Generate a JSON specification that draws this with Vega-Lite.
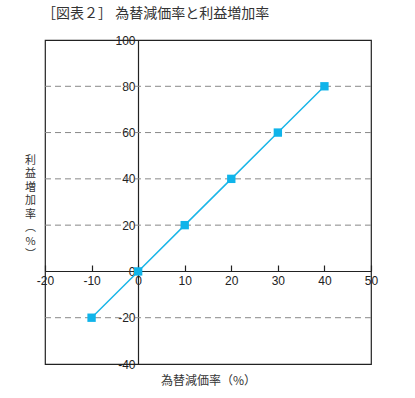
{
  "$schema": "https://vega.github.io/schema/vega-lite/v6.json",
  "width": 326,
  "height": 324,
  "autosize": {"type": "none"},
  "padding": {"left": 45, "top": 40, "right": 44, "bottom": 34},
  "background": "white",
  "config": {
    "view": {"stroke": "#222", "strokeWidth": 1.2},
    "font": "Liberation Sans"
  },
  "title": {
    "text": "［図表２］ 為替減価率と利益増加率",
    "anchor": "start",
    "frame": "group",
    "font": "Noto Sans CJK JP",
    "fontSize": 14,
    "fontWeight": "normal",
    "color": "#333",
    "offset": 13,
    "dx": -3
  },
  "layer": [
    {
      "data": {"values": [{"g": -20}, {"g": 20}, {"g": 40}, {"g": 60}, {"g": 80}]},
      "mark": {"type": "rule", "strokeDash": [6, 4], "color": "#888", "strokeWidth": 1},
      "encoding": {
        "y": {
          "field": "g", "type": "quantitative",
          "scale": {"domain": [-40, 100], "nice": false},
          "axis": {
            "values": [-40, -20, 0, 20, 40, 60, 80, 100],
            "offset": -93,
            "grid": false,
            "domainColor": "#222",
            "domainWidth": 1.2,
            "ticks": false,
            "labelPadding": 3,
            "labelFont": "Liberation Sans",
            "labelFontSize": 12,
            "labelColor": "#222",
            "labelOverlap": false,
            "labelBound": false,
            "labelFlush": false,
            "labelExpr": "'' + datum.value",
            "title": ["利", "益", "増", "加", "率", "︵", "%", "︶"],
            "titleFont": "Noto Sans CJK JP",
            "titleFontSize": 11,
            "titleFontWeight": "normal",
            "titleColor": "#333",
            "titleAngle": 0,
            "titleAlign": "center",
            "titleBaseline": "top",
            "titleLineHeight": 13.5,
            "titleX": -108,
            "titleY": 114
          }
        }
      }
    },
    {
      "data": {"values": [
        {"x": -10, "y": -20},
        {"x": 0, "y": 0},
        {"x": 10, "y": 20},
        {"x": 20, "y": 40},
        {"x": 30, "y": 60},
        {"x": 40, "y": 80}
      ]},
      "mark": {
        "type": "line",
        "color": "#1ab6e8",
        "strokeWidth": 1.5,
        "point": {"shape": "square", "size": 70, "filled": true, "opacity": 1, "color": "#0fb4ea"}
      },
      "encoding": {
        "x": {
          "field": "x", "type": "quantitative",
          "scale": {"domain": [-20, 50], "nice": false},
          "axis": {
            "values": [-20, -10, 0, 10, 20, 30, 40, 50],
            "offset": -93,
            "grid": false,
            "domainColor": "#222",
            "domainWidth": 1.2,
            "tickColor": "#222",
            "tickSize": -6,
            "tickWidth": 1.2,
            "labelPadding": 10,
            "labelFont": "Liberation Sans",
            "labelFontSize": 12,
            "labelColor": "#222",
            "labelOverlap": false,
            "labelBound": false,
            "labelFlush": false,
            "labelExpr": "'' + datum.value",
            "title": "為替減価率（%）",
            "titleFont": "Noto Sans CJK JP",
            "titleFontSize": 12,
            "titleFontWeight": "normal",
            "titleColor": "#333",
            "titleX": 163,
            "titleY": 109,
            "titleBaseline": "middle",
            "titleAlign": "center"
          }
        },
        "y": {
          "field": "y", "type": "quantitative",
          "scale": {"domain": [-40, 100], "nice": false},
          "axis": {
            "values": [-40, -20, 0, 20, 40, 60, 80, 100],
            "offset": -93,
            "grid": false,
            "domainColor": "#222",
            "domainWidth": 1.2,
            "ticks": false,
            "labelPadding": 3,
            "labelFont": "Liberation Sans",
            "labelFontSize": 12,
            "labelColor": "#222",
            "labelOverlap": false,
            "labelBound": false,
            "labelFlush": false,
            "labelExpr": "'' + datum.value",
            "title": ["利", "益", "増", "加", "率", "︵", "%", "︶"],
            "titleFont": "Noto Sans CJK JP",
            "titleFontSize": 11,
            "titleFontWeight": "normal",
            "titleColor": "#333",
            "titleAngle": 0,
            "titleAlign": "center",
            "titleBaseline": "top",
            "titleLineHeight": 13.5,
            "titleX": -108,
            "titleY": 114
          }
        }
      }
    }
  ]
}
